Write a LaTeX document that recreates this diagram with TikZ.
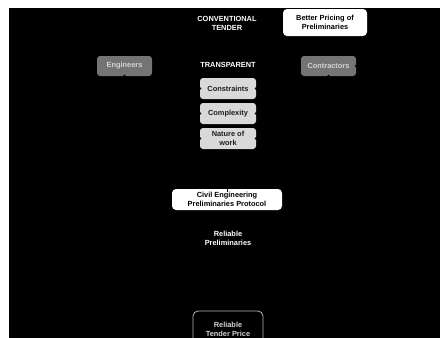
\documentclass[tikz,border=0pt]{standalone}
\usepackage{fontspec}
\setmainfont{Liberation Sans}
\definecolor{gdark}{HTML}{747474}
\definecolor{gtxt}{HTML}{D4D4D4}
\definecolor{glight}{HTML}{D9D9D9}
\definecolor{tdark}{HTML}{1E1E1E}
\definecolor{edgegray}{HTML}{B8B8B8}
\tikzset{
  every node/.style={font=\fontsize{7.4}{9}\selectfont\bfseries, align=center, inner sep=0pt},
  plain/.style={text=white},
  darkbox/.style={fill=gdark, text=gtxt, rounded corners=3pt, minimum width=55pt, minimum height=20pt},
  lightbox/.style={fill=glight, text=tdark, rounded corners=3pt, minimum width=56pt, minimum height=21pt},
  whitebox/.style={fill=white, text=black, rounded corners=4pt},
  outlinebox/.style={draw=edgegray, line width=0.8pt, fill=black, text=gtxt, rounded corners=5pt, minimum width=70pt, minimum height=36pt},
  notch/.style={fill=black, circle, minimum size=3pt, inner sep=0pt}
}
\begin{document}
\begin{tikzpicture}[x=1pt,y=-1pt]
\useasboundingbox (0,0) rectangle (440,338);
\clip (0,0) rectangle (440,338);
\fill[white] (0,0) rectangle (440,338);
\fill[black] (9,8) rectangle (440,338);

\node[plain] (conv) at (227,23) {CONVENTIONAL\\TENDER};
\node[whitebox, minimum width=84pt, minimum height=27pt] (better) at (325,22.5) {Better Pricing of\\Preliminaries};

\node[darkbox] (eng) at (124.5,66) {Engineers};
\node[plain] (transp) at (228,65) {TRANSPARENT};
\node[darkbox] (contr) at (328.5,66) {Contractors};

\node[lightbox] (cons) at (228,88.5) {Constraints};
\node[lightbox] (compl) at (228,113.5) {Complexity};
\node[lightbox] (nat) at (228,138.5) {Nature of\\work};

\node[whitebox, minimum width=110pt, minimum height=21pt] (civil) at (227,199.5) {Civil Engineering\\Preliminaries Protocol};
\node[plain] (relprel) at (228,238) {Reliable\\Preliminaries};
\node[outlinebox] (tender) at (228,329) {Reliable\\Tender Price};

% small connection notches
\node[notch] at (eng.south) {};
\node[notch] at (contr.south) {};
\node[notch] at (contr.east) {};
\node[notch] at (cons.west) {};
\node[notch] at (cons.east) {};
\node[notch] at (compl.east) {};
\node[notch] at (compl.west) {};
\node[notch] at (nat.west) {};
\node[notch] at (nat.east) {};
\draw[black, line width=0.4pt] (civil.north) -- ++(0,3);
\end{tikzpicture}
\end{document}
